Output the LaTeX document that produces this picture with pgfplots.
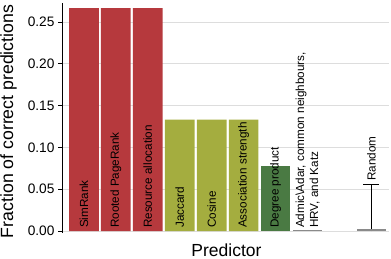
\documentclass[border=0pt]{standalone}
\usepackage{fontspec}
\setmainfont{Liberation Sans}
\usepackage{pgfplots}
\pgfplotsset{compat=1.18}
\definecolor{cred}{HTML}{B6393D}
\definecolor{colive}{HTML}{A4AD3F}
\definecolor{cgreen}{HTML}{4A7A43}
\definecolor{cgray}{HTML}{8A8A8A}
\definecolor{cgrid}{HTML}{DDDDDD}
\begin{document}
\begin{tikzpicture}
\useasboundingbox (0,0) rectangle (391pt,259pt);
\begin{axis}[
  at={(62.5pt,26.3pt)}, anchor=south west,
  scale only axis, width=326.5pt, height=229.7pt,
  xmin=-0.67, xmax=9.55, ymin=-0.002, ymax=0.2727,
  ybar, bar width=0.93, bar shift=0pt,
  axis x line=none,
  axis y line*=left,
  y axis line style={-, black, line width=0.9pt},
  xtick=\empty,
  ytick={0,0.05,0.10,0.15,0.20,0.25},
  yticklabel style={/pgf/number format/.cd, fixed, fixed zerofill, precision=2, /tikz/.cd, font=\fontsize{13.7}{15}\selectfont},
  /pgf/number format/assume math mode=true,
  tick align=outside, major tick length=4.5pt,
  ytick style={black, line width=0.9pt},
  ymajorgrids, grid style={cgrid, line width=0.6pt},
  clip=false,
]
\addplot[fill=cred, draw=none] coordinates {(0,0.2667) (1,0.2667) (2,0.2667)};
\addplot[fill=colive, draw=none] coordinates {(3,0.1333) (4,0.1333) (5,0.1333)};
\addplot[fill=cgreen, draw=none] coordinates {(6,0.078)};
\addplot[fill=cgray, draw=none] coordinates {(7,0.0012)};
% Random: error bar (0 to 0.056) drawn first, then the bar
\addplot[sharp plot, black, line width=0.8pt, mark=none, forget plot] coordinates {(9,0) (9,0.056)};
\addplot[sharp plot, black, line width=0.8pt, mark=none, forget plot] coordinates {(8.75,0.056) (9.25,0.056)};
\addplot[fill=cgray, draw=none] coordinates {(9,0.0025)};
\begin{scope}[every node/.style={rotate=90, anchor=west, inner xsep=3pt, inner ysep=0pt, font=\fontsize{11.7}{14}\selectfont}]
\node at (axis cs:0,0) {SimRank};
\node at (axis cs:1,0) {Rooted PageRank};
\node at (axis cs:2,0) {Resource allocation};
\node at (axis cs:3,0) {Jaccard};
\node at (axis cs:4,0) {Cosine};
\node at (axis cs:5,0) {Association strength};
\node at (axis cs:6,0) {Degree product};
\node[align=left] at (axis cs:7,0) {Admic\textbackslash Adar, common neighbours,\\HRV, and Katz};
\node[inner xsep=3.5pt] at (axis cs:9,0.056) {Random};
\end{scope}
\end{axis}
\node[font=\fontsize{17.5}{20}\selectfont, anchor=center] at (226.5pt,8.5pt) {Predictor};
\node[font=\fontsize{17.7}{20}\selectfont, anchor=center, rotate=90] at (8.5pt,137.5pt) {Fraction of correct predictions};
\end{tikzpicture}
\end{document}
